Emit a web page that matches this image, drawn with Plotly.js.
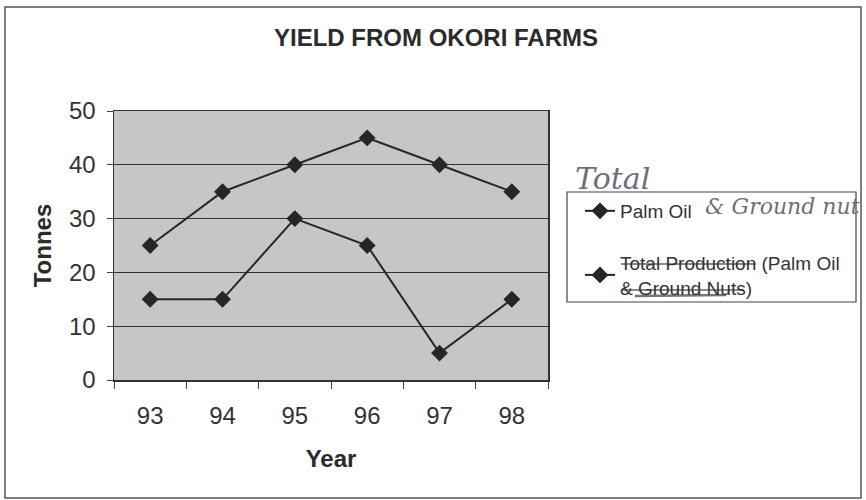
<!DOCTYPE html>
<html>
<head>
<meta charset="utf-8">
<script src="https://cdn.plot.ly/plotly-3.0.1.min.js"></script>
<style>html,body{margin:0;padding:0;background:#fff;}#chart{width:866px;height:500px;}</style>
</head>
<body>
<div id="chart"></div>
<script>
// ---- data ----
const years = ["93", "94", "95", "96", "97", "98"];
const palmOil = [15, 15, 30, 25, 5, 15];
const totalProduction = [25, 35, 40, 45, 40, 35];
const seriesNames = ["Palm Oil", "Total Production (Palm Oil<br>&amp; Ground Nuts)"];
const chartTitle = "YIELD FROM OKORI FARMS";
const xTitle = "Year";
const yTitle = "Tonnes";
const handNotes = ["Total", "&amp; Ground nut"];

// ---- layout geometry ----
const W = 866, H = 500;
const M = {l: 114, r: 318, t: 111, b: 120};
const PW = W - M.l - M.r, PH = H - M.t - M.b;
const px = x => (x - M.l) / PW;
const py = y => (H - M.b - y) / PH;

const ink = "#2b2b2b";
const font = "Liberation Sans, Arial, sans-serif";

const mk = {symbol: "diamond", size: 13, color: "#262626"};
const traces = [
  {x: years, y: palmOil, name: seriesNames[0], type: "scatter", mode: "lines+markers",
   line: {color: "#262626", width: 2}, marker: mk, legendgroup: "a"},
  {x: years, y: totalProduction, name: seriesNames[1], type: "scatter", mode: "lines+markers",
   line: {color: "#262626", width: 2}, marker: mk, legendgroup: "b"}
];

const hand = {family: "DejaVu Serif, serif", color: "#6b6f7c", style: "italic"};
const textStart = 621;

const layout = {
  width: W, height: H,
  margin: M,
  paper_bgcolor: "#ffffff",
  plot_bgcolor: "#c6c6c6",
  font: {family: font, color: ink},
  title: {text: "<b>" + chartTitle + "</b>", font: {size: 24, family: font, color: ink},
          x: 436 / W, xref: "container", xanchor: "center",
          y: 1 - 38 / H, yref: "container", yanchor: "middle"},
  xaxis: {type: "category", range: [-0.5, 5.5], showgrid: false, zeroline: false,
          showline: true, linecolor: "#333", linewidth: 1.5, mirror: true,
          ticks: "outside", tickson: "boundaries", ticklen: 7, tickcolor: "#444", tickwidth: 1,
          tickfont: {size: 24, color: "#333"}, ticklabelstandoff: 14,
          title: {text: "<b>" + xTitle + "</b>", font: {size: 24, color: ink}, standoff: 22}},
  yaxis: {range: [0, 50], dtick: 10, showgrid: true, gridcolor: "#333", gridwidth: 1,
          zeroline: false, showline: true, linecolor: "#333", linewidth: 1.5, mirror: true,
          ticks: "outside", ticklen: 6, tickcolor: "#444",
          tickfont: {size: 24, color: "#333"}, ticklabelstandoff: 6,
          title: {text: "<b>" + yTitle + "</b>", font: {size: 24, color: ink}, standoff: 10}},
  showlegend: true,
  legend: {x: px(580), y: py(192), xanchor: "left", yanchor: "top",
           bgcolor: "rgba(0,0,0,0)", borderwidth: 0,
           font: {size: 19, color: "#333"}, traceorder: "grouped", tracegroupgap: 24},
  shapes: [
    {type: "rect", xref: "paper", yref: "paper", x0: px(5), x1: px(861), y0: py(7), y1: py(498),
     line: {color: "#555", width: 1.5}, fillcolor: "rgba(0,0,0,0)", layer: "below"},
    {type: "rect", xref: "paper", yref: "paper", x0: px(567), x1: px(856), y0: py(192), y1: py(302),
     line: {color: "#444", width: 1.2}, fillcolor: "#ffffff", layer: "below"},
    {type: "line", xref: "paper", yref: "paper", x0: px(textStart), x1: px(textStart + 135), y0: py(264), y1: py(264),
     line: {color: "#666", width: 1.5}},
    {type: "line", xref: "paper", yref: "paper", x0: px(textStart), x1: px(textStart + 123), y0: py(290), y1: py(290),
     line: {color: "#666", width: 1.5}},
    {type: "line", xref: "paper", yref: "paper", x0: px(textStart + 14), x1: px(textStart + 105), y0: py(296), y1: py(295),
     line: {color: "#777", width: 2.5}}
  ],
  annotations: [
    {text: handNotes[0], xref: "paper", yref: "paper", x: px(612), y: py(178),
     xanchor: "center", yanchor: "middle",
     showarrow: false, font: Object.assign({size: 30}, hand)},
    {text: handNotes[1], xref: "paper", yref: "paper", x: px(782), y: py(206),
     xanchor: "center", yanchor: "middle",
     showarrow: false, font: Object.assign({size: 22}, hand)}
  ]
};

Plotly.newPlot("chart", traces, layout, {staticPlot: true, displayModeBar: false});
</script>
</body>
</html>
